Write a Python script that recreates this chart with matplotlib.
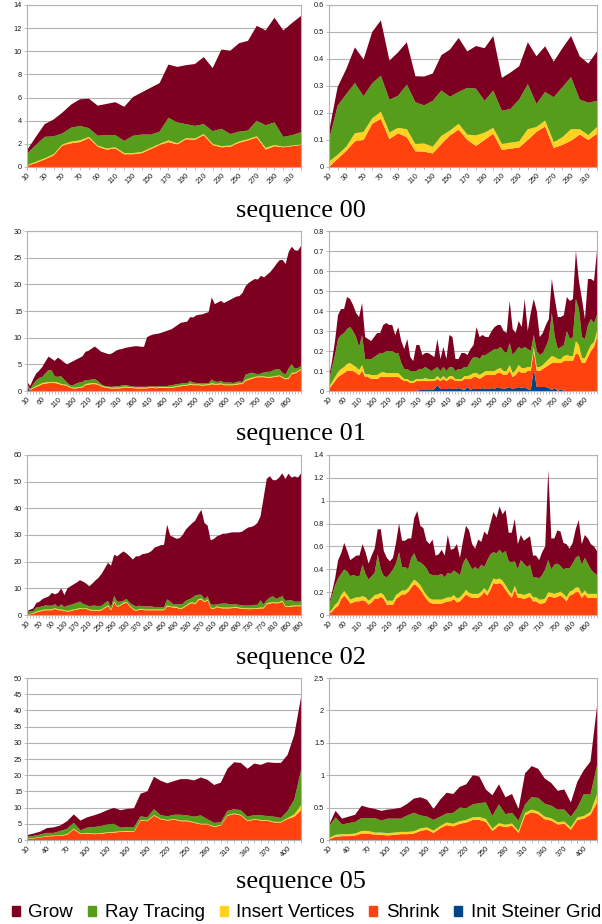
import numpy as np
import matplotlib
matplotlib.use("Agg")
import matplotlib.pyplot as plt
from matplotlib.patches import Patch
from matplotlib.ticker import FuncFormatter

plt.rcParams['font.family'] = ['Liberation Sans', 'DejaVu Sans']

C_GROW = '#7e0021'
C_RAY = '#579d1c'
C_INSERT = '#ffd320'
C_SHRINK = '#ff420e'
C_INIT = '#004586'

# ---------------- sequence 00 ----------------
frames_00 = list(range(10, 330, 10))

shrink_00a = [0.1, 0.35, 0.65, 1.0, 1.85, 2.05, 2.15, 2.5, 1.75, 1.5, 1.6, 1.1, 1.1, 1.2, 1.55, 1.9,
              2.15, 1.95, 2.4, 2.35, 2.75, 1.9, 1.7, 1.75, 2.1, 2.3, 2.55, 1.5, 1.8, 1.7, 1.8, 1.9]
insert_00a = [0.05, 0.1, 0.1, 0.1, 0.1, 0.15, 0.15, 0.1, 0.1, 0.1, 0.1, 0.1, 0.1, 0.1, 0.1, 0.1,
              0.15, 0.1, 0.1, 0.1, 0.1, 0.1, 0.1, 0.1, 0.1, 0.1, 0.1, 0.15, 0.1, 0.05, 0.05, 0.05]
ray_00a = [1.0, 1.45, 1.85, 1.55, 0.95, 1.2, 1.25, 0.75, 0.85, 1.15, 1.05, 1.05, 1.5, 1.5, 1.15, 1.05,
           1.95, 1.8, 1.2, 1.1, 0.85, 1.1, 1.5, 1.0, 0.85, 0.75, 1.35, 1.95, 1.95, 0.85, 0.9, 1.05]
grow_00a = [0.3, 0.7, 1.1, 1.45, 1.8, 2.0, 2.3, 2.55, 2.6, 2.7, 2.85, 2.95, 3.35, 3.65, 4.05, 4.2,
            4.6, 4.8, 5.1, 5.35, 5.8, 5.45, 6.85, 7.2, 7.65, 7.75, 8.2, 8.2, 9.05, 9.2, 9.7, 10.05]

shrink_00b = [0.0, 0.03, 0.06, 0.095, 0.10, 0.16, 0.178, 0.103, 0.125, 0.11, 0.058, 0.057, 0.05, 0.085, 0.117, 0.138,
              0.10, 0.078, 0.10, 0.123, 0.063, 0.068, 0.072, 0.10, 0.13, 0.15, 0.07, 0.082, 0.097, 0.12, 0.10, 0.123]
insert_00b = [0.02, 0.015, 0.015, 0.03, 0.03, 0.02, 0.027, 0.025, 0.02, 0.03, 0.027, 0.03, 0.025, 0.03, 0.018, 0.022,
              0.02, 0.039, 0.027, 0.022, 0.022, 0.022, 0.023, 0.04, 0.018, 0.022, 0.022, 0.028, 0.043, 0.02, 0.018, 0.025]
ray_00b = [0.08, 0.182, 0.195, 0.186, 0.132, 0.13, 0.133, 0.121, 0.119, 0.165, 0.155, 0.141, 0.17, 0.168, 0.125, 0.118,
           0.173, 0.173, 0.118, 0.138, 0.123, 0.125, 0.155, 0.167, 0.085, 0.106, 0.166, 0.186, 0.193, 0.11, 0.12, 0.097]
grow_00b = [0.03, 0.069, 0.093, 0.132, 0.136, 0.19, 0.205, 0.145, 0.161, 0.157, 0.096, 0.107, 0.101, 0.131, 0.175, 0.20,
            0.135, 0.158, 0.195, 0.202, 0.122, 0.135, 0.123, 0.155, 0.177, 0.169, 0.132, 0.144, 0.152, 0.16, 0.145, 0.183]

# ---------------- sequence 01 ----------------
frames_01 = list(range(10, 910, 10))

init_01a = [1.2] + [0.0] * 89
shrink_01a = [0.05, 0.2, 0.5, 0.8, 1.0, 1.3, 1.4, 1.5, 1.5, 1.5,
              1.4, 1.2, 1.1, 1.0, 0.6, 0.5, 0.5, 0.6, 0.7, 1.1,
              1.2, 1.3, 1.3, 1.2, 0.9, 0.7, 0.6, 0.5, 0.5, 0.5,
              0.5, 0.6, 0.7, 0.6, 0.6, 0.5, 0.5, 0.5, 0.5, 0.5,
              0.6, 0.6, 0.5, 0.6, 0.6, 0.6, 0.6, 0.6, 0.7, 0.8,
              0.9, 1.0, 1.0, 1.2, 1.1, 1.1, 1.1, 1.0, 1.1, 1.1,
              1.3, 1.2, 1.2, 1.3, 1.1, 1.1, 1.1, 1.1, 1.2, 1.3,
              1.3, 1.9, 2.1, 2.3, 2.5, 2.6, 2.6, 2.6, 2.5, 2.5,
              2.6, 2.7, 2.8, 2.5, 2.2, 2.3, 3.2, 3.3, 3.6, 4.0]
insert_01a = [0.05, 0.1, 0.15, 0.15, 0.2, 0.2, 0.2, 0.2, 0.2, 0.2,
              0.2, 0.15, 0.15, 0.15, 0.15, 0.15, 0.15, 0.15, 0.15, 0.2,
              0.2, 0.2, 0.2, 0.15, 0.15, 0.15, 0.15, 0.15, 0.15, 0.15,
              0.15, 0.15, 0.15, 0.15, 0.15, 0.15, 0.15, 0.15, 0.15, 0.15,
              0.15, 0.15, 0.15, 0.15, 0.15, 0.15, 0.15, 0.15, 0.15, 0.15,
              0.15, 0.15, 0.15, 0.2, 0.15, 0.15, 0.15, 0.15, 0.15, 0.15,
              0.2, 0.15, 0.15, 0.15, 0.15, 0.15, 0.15, 0.15, 0.15, 0.15,
              0.15, 0.2, 0.2, 0.2, 0.15, 0.15, 0.15, 0.15, 0.15, 0.15,
              0.15, 0.15, 0.15, 0.15, 0.15, 0.2, 0.2, 0.15, 0.15, 0.15]
ray_01a = [0.1, 0.05, 0.65, 1.05, 1.25, 1.15, 1.75, 2.25, 2.15, 1.05,
           1.05, 1.45, 0.95, 0.45, 0.35, 0.45, 0.75, 0.85, 0.85, 0.75,
           0.65, 0.65, 0.75, 0.55, 0.25, 0.15, 0.15, 0.15, 0.15, 0.25,
           0.25, 0.35, 0.25, 0.25, 0.15, 0.15, 0.15, 0.15, 0.15, 0.15,
           0.15, 0.15, 0.25, 0.15, 0.15, 0.15, 0.25, 0.35, 0.35, 0.35,
           0.35, 0.35, 0.35, 0.45, 0.35, 0.25, 0.25, 0.25, 0.25, 0.25,
           0.65, 0.45, 0.35, 0.45, 0.35, 0.35, 0.35, 0.25, 0.35, 0.35,
           0.25, 0.95, 0.95, 0.95, 0.65, 0.35, 0.55, 0.75, 0.95, 0.95,
           1.15, 1.25, 1.15, 0.75, 0.75, 1.75, 1.65, 0.75, 0.55, 0.55]
grow_01a = [0.4, 0.6, 0.9, 1.3, 1.4, 1.9, 2.2, 2.5, 2.2, 2.9,
            3.6, 3.1, 3.2, 3.4, 4.2, 4.5, 4.5, 4.6, 4.8, 5.3,
            5.5, 5.8, 6.1, 6.0, 6.1, 6.2, 6.1, 6.1, 6.4, 6.7,
            6.9, 6.8, 7.0, 7.2, 7.4, 7.6, 7.6, 7.5, 7.5, 9.3,
            9.5, 9.7, 9.8, 9.9, 10.1, 10.3, 10.4, 10.5, 10.8, 11.1,
            11.4, 11.4, 11.5, 12.0, 12.2, 12.7, 12.8, 13.0, 13.1, 13.3,
            15.4, 14.5, 14.9, 15.0, 14.9, 15.2, 15.5, 15.9, 16.0, 16.0,
            16.7, 16.6, 17.0, 17.2, 17.7, 17.8, 18.3, 17.8, 18.2, 18.7,
            19.1, 19.7, 20.4, 21.2, 20.7, 21.8, 22.0, 22.2, 22.0, 22.5]

init_01b = [0.0] * 30 + [
    0.005, 0.005, 0.005, 0.005, 0.005, 0.01, 0.03, 0.01, 0.01, 0.01,
    0.015, 0.01, 0.01, 0.015, 0.01, 0.005, 0.02, 0.005, 0.015, 0.01,
    0.01, 0.015, 0.01, 0.01, 0.015, 0.01, 0.02, 0.015, 0.01, 0.015,
    0.02, 0.01, 0.015, 0.02, 0.015, 0.02, 0.01, 0.005, 0.11, 0.02,
    0.02, 0.02, 0.02, 0.015, 0.005, 0.015, 0.0, 0.01, 0.0, 0.0] + [0.0] * 10
shrink_01b = [0.01, 0.03, 0.05, 0.07, 0.08, 0.09, 0.10, 0.10, 0.10, 0.09,
              0.08, 0.10, 0.07, 0.07, 0.06, 0.06, 0.06, 0.07, 0.07, 0.07,
              0.07, 0.07, 0.07, 0.07, 0.06, 0.05, 0.05, 0.04, 0.04, 0.05,
              0.045, 0.045, 0.045, 0.045, 0.045, 0.04, 0.03, 0.04, 0.05, 0.04,
              0.045, 0.05, 0.04, 0.035, 0.04, 0.055, 0.04, 0.055, 0.055, 0.06,
              0.05, 0.055, 0.07, 0.07, 0.065, 0.07, 0.07, 0.075, 0.07, 0.065,
              0.08, 0.06, 0.065, 0.08, 0.075, 0.07, 0.09, 0.095, 0.09, 0.08,
              0.08, 0.09, 0.10, 0.115, 0.135, 0.125, 0.14, 0.13, 0.15, 0.15,
              0.15, 0.15, 0.19, 0.18, 0.14, 0.14, 0.17, 0.20, 0.22, 0.27]
insert_01b = [0.01, 0.015, 0.02, 0.025, 0.03, 0.03, 0.035, 0.04, 0.03, 0.03,
              0.025, 0.03, 0.015, 0.015, 0.02, 0.02, 0.02, 0.02, 0.025, 0.02,
              0.02, 0.02, 0.02, 0.02, 0.015, 0.01, 0.01, 0.01, 0.01, 0.01,
              0.01, 0.01, 0.015, 0.01, 0.01, 0.01, 0.015, 0.01, 0.015, 0.01,
              0.015, 0.015, 0.01, 0.01, 0.01, 0.015, 0.015, 0.02, 0.02, 0.02,
              0.02, 0.02, 0.02, 0.02, 0.02, 0.02, 0.02, 0.025, 0.02, 0.02,
              0.03, 0.02, 0.025, 0.03, 0.025, 0.025, 0.02, 0.02, 0.02, 0.02,
              0.02, 0.02, 0.025, 0.03, 0.035, 0.03, 0.02, 0.02, 0.025, 0.03,
              0.025, 0.025, 0.06, 0.05, 0.025, 0.025, 0.03, 0.03, 0.025, 0.03]
ray_01b = [0.03, 0.075, 0.11, 0.165, 0.17, 0.17, 0.175, 0.18, 0.17, 0.15,
           0.115, 0.15, 0.075, 0.075, 0.08, 0.09, 0.10, 0.10, 0.095, 0.11,
           0.11, 0.11, 0.10, 0.10, 0.065, 0.05, 0.05, 0.05, 0.05, 0.04,
           0.05, 0.05, 0.055, 0.05, 0.04, 0.05, 0.045, 0.04, 0.045, 0.04,
           0.045, 0.045, 0.04, 0.05, 0.05, 0.045, 0.045, 0.07, 0.08, 0.08,
           0.08, 0.09, 0.08, 0.09, 0.10, 0.11, 0.10, 0.105, 0.10, 0.09,
           0.11, 0.09, 0.095, 0.09, 0.095, 0.105, 0.09, 0.08, 0.06, 0.08,
           0.06, 0.06, 0.075, 0.10, 0.215, 0.10, 0.05, 0.06, 0.055, 0.12,
           0.085, 0.095, 0.21, 0.18, 0.105, 0.095, 0.13, 0.13, 0.095, 0.08]
grow_01b = [0.02, 0.03, 0.07, 0.12, 0.13, 0.12, 0.16, 0.14, 0.13, 0.12,
            0.15, 0.16, 0.11, 0.10, 0.09, 0.10, 0.11, 0.10, 0.14, 0.14,
            0.13, 0.13, 0.09, 0.13, 0.11, 0.10, 0.15, 0.07, 0.05, 0.13,
            0.12, 0.07, 0.07, 0.08, 0.08, 0.06, 0.14, 0.06, 0.10, 0.06,
            0.16, 0.15, 0.06, 0.05, 0.08, 0.07, 0.06, 0.06, 0.06, 0.15,
            0.11, 0.10, 0.09, 0.08, 0.10, 0.11, 0.12, 0.11, 0.10, 0.10,
            0.21, 0.13, 0.09, 0.13, 0.11, 0.24, 0.09, 0.19, 0.18, 0.20,
            0.09, 0.10, 0.11, 0.10, 0.17, 0.19, 0.16, 0.15, 0.15, 0.17,
            0.19, 0.19, 0.24, 0.14, 0.19, 0.10, 0.23, 0.20, 0.21, 0.32]

# ---------------- sequence 02 ----------------
frames_02 = list(range(10, 900, 10))

shrink_02a = [0.1, 0.3, 0.5, 1.0, 1.3, 1.6, 1.8, 1.8, 1.8, 2.3,
              1.8, 1.8, 1.5, 1.2, 1.5, 1.8, 2.0, 2.3, 2.2, 2.3,
              1.8, 1.6, 1.6, 1.6, 1.8, 2.6, 3.3, 1.8, 4.8, 3.0,
              3.5, 4.3, 4.6, 3.2, 2.2, 1.5, 2.0, 2.0, 1.8, 1.8,
              1.8, 1.8, 1.8, 1.8, 1.8, 3.2, 3.0, 2.8, 2.8, 2.2,
              2.5, 3.2, 4.0, 4.5, 4.0, 5.5, 5.8, 4.8, 5.5, 2.5,
              2.2, 3.0, 2.6, 2.5, 2.5, 2.5, 2.6, 2.8, 2.5, 2.3,
              2.3, 2.2, 2.2, 2.3, 2.3, 2.5, 2.5, 4.0, 4.3, 4.5,
              4.4, 4.5, 5.0, 3.0, 3.0, 3.2, 3.3, 3.3, 3.3]
insert_02a = [0.1, 0.1, 0.2, 0.3, 0.3, 0.3, 0.3, 0.3, 0.3, 0.35,
              0.3, 0.3, 0.3, 0.3, 0.3, 0.3, 0.3, 0.35, 0.3, 0.3,
              0.3, 0.3, 0.3, 0.3, 0.3, 0.3, 0.35, 0.3, 0.4, 0.3,
              0.3, 0.35, 0.35, 0.3, 0.3, 0.3, 0.3, 0.3, 0.3, 0.3,
              0.3, 0.3, 0.3, 0.3, 0.3, 0.35, 0.3, 0.3, 0.3, 0.3,
              0.3, 0.3, 0.35, 0.35, 0.35, 0.4, 0.4, 0.3, 0.35, 0.3,
              0.3, 0.3, 0.3, 0.3, 0.3, 0.3, 0.3, 0.3, 0.3, 0.3,
              0.3, 0.3, 0.3, 0.3, 0.3, 0.3, 0.3, 0.35, 0.35, 0.35,
              0.35, 0.35, 0.4, 0.3, 0.3, 0.3, 0.3, 0.3, 0.3]
ray_02a = [1.1, 1.0, 0.8, 1.5, 1.4, 1.4, 1.5, 1.4, 1.4, 1.4,
           0.9, 1.9, 1.2, 2.0, 2.0, 2.1, 2.3, 2.4, 1.7, 1.2,
           1.2, 1.6, 1.6, 1.4, 1.4, 1.6, 1.6, 0.9, 1.9, 1.7,
           1.2, 0.7, 1.1, 1.0, 1.3, 1.4, 1.2, 1.0, 1.1, 1.1,
           1.1, 0.9, 0.9, 0.9, 0.9, 2.3, 1.7, 0.9, 0.9, 1.5,
           1.4, 1.8, 1.5, 1.5, 3.0, 1.7, 1.4, 0.9, 1.2, 1.2,
           1.3, 0.7, 1.3, 1.5, 1.5, 1.2, 1.1, 0.9, 1.0, 1.0,
           0.9, 1.0, 1.1, 1.2, 1.2, 2.7, 1.2, 1.2, 1.9, 2.2,
           1.3, 1.7, 1.7, 2.0, 2.2, 2.0, 1.4, 1.4, 1.4]
grow_02a = [0.2, 0.6, 1.0, 1.7, 2.0, 2.7, 2.9, 3.5, 4.8, 3.7,
            5.3, 6.0, 4.5, 6.5, 7.0, 7.3, 7.6, 8.0, 8.3, 8.0,
            7.5, 8.3, 9.5, 10.7, 12.0, 13.0, 14.3, 15.5, 15.5, 17.0,
            18.0, 18.5, 17.0, 17.5, 17.0, 18.8, 18.5, 19.5, 19.8, 20.1,
            20.8, 22.3, 22.7, 23.2, 23.3, 28.0, 24.8, 25.2, 24.6, 24.8,
            25.8, 26.7, 27.4, 28.0, 28.0, 30.0, 31.8, 28.5, 26.5, 24.0,
            24.7, 25.5, 25.8, 26.2, 26.2, 26.8, 27.0, 27.0, 27.2, 27.6,
            28.5, 29.3, 29.4, 29.7, 30.7, 31.5, 40.0, 45.5, 45.5, 43.5,
            44.5, 45.0, 46.0, 45.7, 47.5, 46.0, 47.0, 46.5, 48.0]

shrink_02b = [0.01, 0.03, 0.06, 0.08, 0.14, 0.17, 0.14, 0.10, 0.11, 0.12,
              0.12, 0.13, 0.12, 0.09, 0.11, 0.14, 0.14, 0.16, 0.14, 0.09,
              0.09, 0.09, 0.14, 0.16, 0.18, 0.18, 0.20, 0.24, 0.27, 0.25,
              0.22, 0.18, 0.14, 0.11, 0.10, 0.10, 0.10, 0.10, 0.11, 0.12,
              0.12, 0.14, 0.11, 0.12, 0.15, 0.18, 0.16, 0.15, 0.15, 0.15,
              0.17, 0.20, 0.17, 0.22, 0.28, 0.27, 0.28, 0.26, 0.22, 0.18,
              0.15, 0.22, 0.15, 0.15, 0.14, 0.15, 0.16, 0.12, 0.12, 0.10,
              0.10, 0.11, 0.16, 0.16, 0.15, 0.16, 0.17, 0.15, 0.12, 0.17,
              0.18, 0.20, 0.20, 0.15, 0.18, 0.15, 0.15, 0.15, 0.15]
insert_02b = [0.01, 0.02, 0.03, 0.035, 0.035, 0.04, 0.035, 0.035, 0.035, 0.035,
              0.035, 0.035, 0.035, 0.035, 0.035, 0.035, 0.04, 0.035, 0.035, 0.035,
              0.035, 0.035, 0.035, 0.035, 0.035, 0.035, 0.035, 0.035, 0.04, 0.04,
              0.04, 0.035, 0.035, 0.035, 0.035, 0.035, 0.035, 0.035, 0.035, 0.035,
              0.035, 0.035, 0.035, 0.035, 0.035, 0.04, 0.035, 0.035, 0.035, 0.035,
              0.035, 0.035, 0.035, 0.04, 0.04, 0.04, 0.04, 0.04, 0.04, 0.035,
              0.035, 0.035, 0.035, 0.035, 0.035, 0.035, 0.035, 0.035, 0.035, 0.035,
              0.035, 0.035, 0.04, 0.035, 0.035, 0.035, 0.035, 0.035, 0.035, 0.035,
              0.035, 0.04, 0.04, 0.035, 0.035, 0.035, 0.035, 0.035, 0.035]
ray_02b = [0.06, 0.12, 0.17, 0.205, 0.185, 0.19, 0.205, 0.205, 0.205, 0.185,
           0.185, 0.275, 0.205, 0.185, 0.195, 0.195, 0.35, 0.205, 0.165, 0.205,
           0.235, 0.275, 0.275, 0.355, 0.205, 0.205, 0.165, 0.225, 0.23, 0.18,
           0.20, 0.225, 0.235, 0.215, 0.215, 0.215, 0.215, 0.225, 0.185, 0.215,
           0.205, 0.215, 0.225, 0.195, 0.265, 0.28, 0.255, 0.215, 0.235, 0.215,
           0.235, 0.185, 0.275, 0.27, 0.23, 0.23, 0.25, 0.24, 0.30, 0.255,
           0.275, 0.215, 0.215, 0.295, 0.275, 0.235, 0.245, 0.175, 0.175, 0.185,
           0.215, 0.255, 0.28, 0.205, 0.255, 0.255, 0.225, 0.215, 0.255, 0.205,
           0.235, 0.26, 0.28, 0.255, 0.285, 0.265, 0.215, 0.185, 0.165]
grow_02b = [0.02, 0.03, 0.06, 0.16, 0.18, 0.23, 0.18, 0.14, 0.15, 0.18,
            0.18, 0.18, 0.19, 0.14, 0.18, 0.21, 0.22, 0.35, 0.22, 0.17,
            0.11, 0.10, 0.18, 0.25, 0.23, 0.23, 0.27, 0.17, 0.31, 0.44,
            0.32, 0.32, 0.24, 0.26, 0.31, 0.17, 0.18, 0.21, 0.19, 0.33,
            0.21, 0.19, 0.25, 0.15, 0.20, 0.28, 0.29, 0.22, 0.16, 0.26,
            0.20, 0.31, 0.22, 0.27, 0.35, 0.31, 0.38, 0.34, 0.36, 0.25,
            0.26, 0.37, 0.22, 0.22, 0.20, 0.25, 0.25, 0.19, 0.19, 0.16,
            0.20, 0.20, 0.79, 0.27, 0.23, 0.29, 0.30, 0.23, 0.21, 0.17,
            0.18, 0.25, 0.31, 0.18, 0.20, 0.22, 0.22, 0.23, 0.21]

# ---------------- sequence 05 ----------------
frames_05 = list(range(10, 430, 10))

shrink_05a = [0.3, 0.5, 0.8, 1.1, 1.2, 1.3, 1.6, 3.3, 1.8, 2.0,
              1.8, 1.9, 2.2, 2.3, 2.5, 2.6, 2.5, 6.0, 5.8, 7.5,
              6.4, 6.0, 6.3, 5.8, 5.8, 5.3, 4.8, 4.8, 4.0, 4.5,
              7.5, 8.0, 7.6, 5.8, 6.3, 6.0, 5.9, 5.4, 5.4, 6.5,
              7.2, 9.2]
insert_05a = [0.1, 0.1, 0.1, 0.15, 0.15, 0.15, 0.2, 0.2, 0.2, 0.2,
              0.2, 0.2, 0.2, 0.2, 0.2, 0.2, 0.2, 0.2, 0.2, 0.2,
              0.2, 0.2, 0.2, 0.2, 0.2, 0.2, 0.2, 0.2, 0.2, 0.2,
              0.2, 0.2, 0.2, 0.2, 0.2, 0.2, 0.2, 0.2, 0.2, 0.3,
              0.7, 1.5]
ray_05a = [0.6, 0.7, 0.8, 0.95, 0.85, 1.35, 1.7, 1.8, 1.0, 1.6,
           2.0, 2.2, 2.4, 2.5, 1.1, 1.2, 1.3, 1.1, 1.0, 1.8,
           1.1, 1.1, 1.3, 1.8, 1.6, 1.7, 2.6, 1.4, 1.1, 0.8,
           1.3, 1.3, 1.4, 1.2, 1.2, 1.4, 1.3, 1.6, 1.2, 2.2,
           4.6, 10.8]
grow_05a = [0.5, 0.7, 0.9, 1.5, 1.7, 1.7, 2.3, 2.6, 3.0, 3.2,
            3.6, 4.0, 4.4, 4.9, 5.4, 5.6, 5.8, 7.0, 8.0, 10.0,
            10.6, 10.2, 10.4, 11.0, 11.2, 11.2, 11.7, 12.2, 11.7, 12.2,
            13.0, 14.5, 14.6, 14.8, 15.9, 15.6, 16.6, 16.6, 17.0, 17.3,
            20.0, 22.5]

shrink_05b = [0.01, 0.05, 0.06, 0.06, 0.07, 0.10, 0.10, 0.08, 0.08, 0.07,
              0.08, 0.09, 0.09, 0.10, 0.14, 0.16, 0.11, 0.18, 0.23, 0.21,
              0.25, 0.27, 0.31, 0.31, 0.28, 0.14, 0.22, 0.20, 0.22, 0.11,
              0.38, 0.43, 0.40, 0.32, 0.30, 0.24, 0.25, 0.16, 0.31, 0.33,
              0.39, 0.58]
insert_05b = [0.02, 0.03, 0.03, 0.03, 0.03, 0.04, 0.04, 0.035, 0.035, 0.035,
              0.035, 0.035, 0.035, 0.035, 0.04, 0.035, 0.035, 0.035, 0.04, 0.04,
              0.04, 0.04, 0.04, 0.045, 0.045, 0.035, 0.04, 0.035, 0.035, 0.03,
              0.04, 0.04, 0.04, 0.04, 0.035, 0.035, 0.035, 0.035, 0.04, 0.04,
              0.045, 0.12]
ray_05b = [0.18, 0.27, 0.15, 0.17, 0.18, 0.20, 0.20, 0.225, 0.185, 0.225,
           0.215, 0.205, 0.255, 0.285, 0.20, 0.165, 0.165, 0.145, 0.14, 0.17,
           0.21, 0.18, 0.20, 0.215, 0.255, 0.195, 0.29, 0.165, 0.165, 0.16,
           0.13, 0.19, 0.21, 0.20, 0.195, 0.195, 0.185, 0.165, 0.15, 0.34,
           0.265, 0.45]
grow_05b = [0.02, 0.10, 0.09, 0.10, 0.11, 0.19, 0.16, 0.14, 0.15, 0.14,
            0.15, 0.17, 0.18, 0.22, 0.28, 0.26, 0.17, 0.26, 0.32, 0.29,
            0.32, 0.37, 0.45, 0.41, 0.20, 0.32, 0.31, 0.26, 0.29, 0.18,
            0.48, 0.48, 0.45, 0.39, 0.35, 0.29, 0.31, 0.22, 0.40, 0.37,
            0.51, 0.91]


def draw_panel(ax, frames, layers, ymax, ystep, label_every):
    # layers are (values, colour) from the bottom of the stack upwards
    xs = np.arange(len(frames))
    ax.stackplot(xs, *[v for v, c in layers], colors=[c for v, c in layers],
                 linewidth=0, antialiased=True)
    ax.set_xlim(0, len(frames) - 1)
    ax.set_ylim(0, ymax)
    ax.set_yticks(np.arange(0, ymax + ystep / 2, ystep))
    ax.yaxis.set_major_formatter(FuncFormatter(lambda v, p: f'{v:g}'))
    ax.set_xticks(xs)
    ax.set_xticklabels([str(f) if i % label_every == 0 else '' for i, f in enumerate(frames)],
                       rotation=45, ha='right', va='top', rotation_mode='anchor')
    ax.set_axisbelow(True)
    ax.grid(axis='y', color='#b3b3b3', linewidth=0.8)
    for s in ax.spines.values():
        s.set_color('#b3b3b3')
        s.set_linewidth(0.8)
    ax.tick_params(axis='both', labelsize=5.3, colors='#b3b3b3', labelcolor='#1a1a1a',
                   length=2, width=0.6, pad=1.5)


fig = plt.figure(figsize=(6.02, 9.24), dpi=100)

rows = [
    (0.8193, 0.1753, 'sequence 00', 0.7716),
    (0.5768, 0.1732, 'sequence 01', 0.5303),
    (0.3344, 0.1732, 'sequence 02', 0.2879),
    (0.0909, 0.1753, 'sequence 05', 0.0455),
]

panels = [
    (frames_00, [(shrink_00a, C_SHRINK), (insert_00a, C_INSERT), (ray_00a, C_RAY), (grow_00a, C_GROW)], 14, 2, 2,
     [(shrink_00b, C_SHRINK), (insert_00b, C_INSERT), (ray_00b, C_RAY), (grow_00b, C_GROW)], 0.6, 0.1, 2),
    (frames_01, [(init_01a, C_INIT), (shrink_01a, C_SHRINK), (insert_01a, C_INSERT), (ray_01a, C_RAY), (grow_01a, C_GROW)], 30, 5, 5,
     [(init_01b, C_INIT), (shrink_01b, C_SHRINK), (insert_01b, C_INSERT), (ray_01b, C_RAY), (grow_01b, C_GROW)], 0.8, 0.1, 5),
    (frames_02, [(shrink_02a, C_SHRINK), (insert_02a, C_INSERT), (ray_02a, C_RAY), (grow_02a, C_GROW)], 60, 10, 4,
     [(shrink_02b, C_SHRINK), (insert_02b, C_INSERT), (ray_02b, C_RAY), (grow_02b, C_GROW)], 1.4, 0.2, 5),
    (frames_05, [(shrink_05a, C_SHRINK), (insert_05a, C_INSERT), (ray_05a, C_RAY), (grow_05a, C_GROW)], 50, 5, 3,
     [(shrink_05b, C_SHRINK), (insert_05b, C_INSERT), (ray_05b, C_RAY), (grow_05b, C_GROW)], 2.5, 0.5, 3),
]

for (bottom, height, title, ty), (frames, left, lmax, lstep, lev, right, rmax, rstep, rev) in zip(rows, panels):
    axl = fig.add_axes([0.0449, bottom, 0.4551, height])
    axr = fig.add_axes([0.5465, bottom, 0.4452, height])
    draw_panel(axl, frames, left, lmax, lstep, lev)
    draw_panel(axr, frames, right, rmax, rstep, rev)
    fig.text(0.5, ty, title, ha='center', va='center', fontsize=19,
             family=['Liberation Serif', 'DejaVu Serif'])

handles = [Patch(color=C_GROW, label='Grow'),
           Patch(color=C_RAY, label='Ray Tracing'),
           Patch(color=C_INSERT, label='Insert Vertices'),
           Patch(color=C_SHRINK, label='Shrink'),
           Patch(color=C_INIT, label='Init Steiner Grid')]
fig.legend(handles=handles, loc='center', bbox_to_anchor=(0.509, 0.012), ncol=5, frameon=False,
           fontsize=13.5, handlelength=0.43, handleheight=0.43, handletextpad=0.45,
           columnspacing=0.8, borderaxespad=0, borderpad=0)

fig.savefig('out.png', dpi=100)
